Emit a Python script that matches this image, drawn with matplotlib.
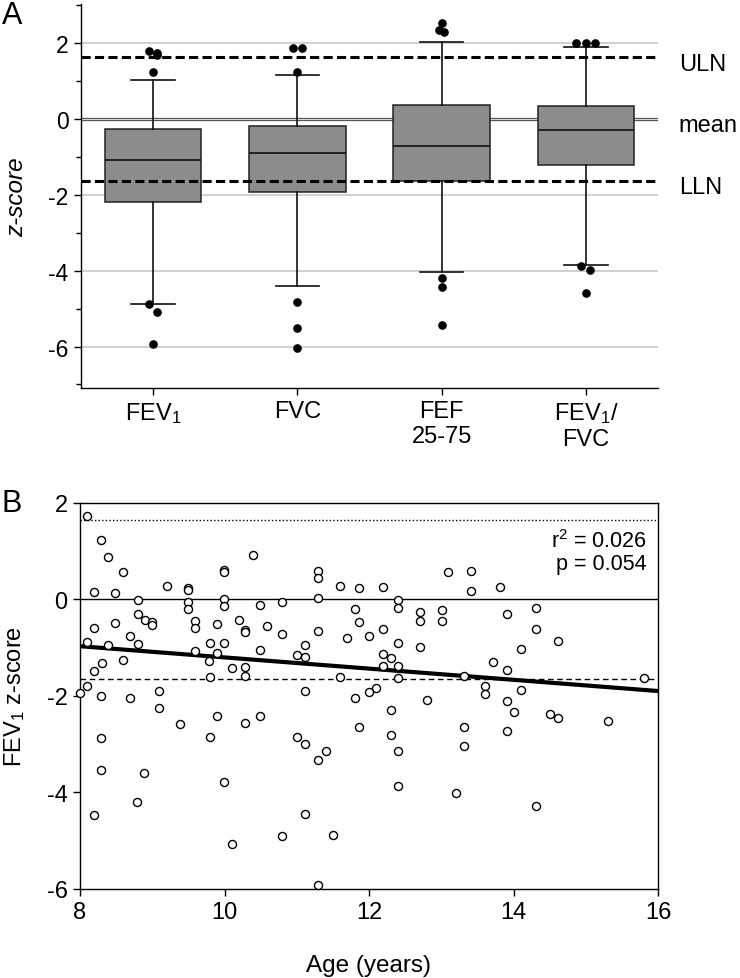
import matplotlib
matplotlib.use('Agg')
import matplotlib.pyplot as plt
import numpy as np

plt.rcParams['font.family'] = ['Liberation Sans', 'DejaVu Sans']
plt.rcParams['mathtext.fontset'] = 'custom'
plt.rcParams['mathtext.rm'] = 'Liberation Sans'
plt.rcParams['mathtext.it'] = 'Liberation Sans:italic'
plt.rcParams['axes.unicode_minus'] = False  # reference uses plain hyphen

# ---- panel A data (box summaries) ----
cats = ['FEV$_1$', 'FVC', 'FEF\n25-75', 'FEV$_1$/\nFVC']
whislo = [-4.89, -4.41, -4.04, -3.86]
q1 = [-2.18, -1.92, -1.64, -1.22]
med = [-1.09, -0.90, -0.71, -0.29]
q3 = [-0.25, -0.18, 0.37, 0.34]
whishi = [1.03, 1.16, 2.03, 1.90]

# outliers: category index and value
out_cat = [0, 0, 0, 0, 0, 0, 0,
           1, 1, 1, 1, 1, 1,
           2, 2, 2, 2, 2, 2,
           3, 3, 3, 3, 3, 3]
out_val = [1.81, 1.75, 1.70, 1.23, -4.89, -5.09, -5.93,
           1.88, 1.88, 1.25, -4.82, -5.50, -6.04,
           2.54, 2.35, 2.31, -4.19, -4.43, -5.44,
           2.00, 2.00, 2.00, -3.88, -3.99, -4.59]
# small sideways shift so overlapping dots stay visible
out_dx = [-0.03, 0.03, 0.03, 0, -0.03, 0.03, 0,
          -0.03, 0.03, 0, 0, 0, 0,
          0, -0.02, 0.015, 0, 0, 0,
          -0.065, 0, 0.065, -0.035, 0.03, 0]

# ---- panel B data (age vs FEV1 z-score) ----
age = [8.09, 8.29, 8.39, 8.60, 8.19, 8.49, 9.20, 9.50, 9.50, 9.99,
       9.99, 10.39, 8.80, 9.50, 9.50, 9.99, 9.99, 10.49, 10.80, 11.30,
       11.30, 11.30, 11.60, 11.86, 11.80, 11.86, 8.19, 8.49, 8.80, 8.90,
       9.00, 9.00, 9.59, 9.59, 9.89, 10.20, 10.29, 10.29, 10.59, 10.80,
       11.30, 11.70, 8.69, 8.10, 8.39, 8.80, 9.80, 9.99, 9.59, 9.89,
       9.79, 10.49, 11.11, 11.00, 11.11, 8.30, 8.19, 8.60, 10.10, 10.29,
       10.29, 9.80, 11.60, 8.09, 8.00, 8.29, 8.69, 9.09, 9.09, 11.11,
       11.80, 9.39, 9.89, 10.29, 10.49, 11.86, 8.29, 9.80, 11.00, 11.11,
       11.40, 11.30, 8.29, 8.89, 9.99, 8.79, 8.19, 11.11, 10.80, 11.50,
       10.10, 11.30,
       12.20, 13.10, 13.41, 13.41, 13.81, 12.40, 12.40, 12.70, 12.70, 13.01,
       13.01, 14.31, 13.91, 12.00, 12.20, 12.40, 12.70, 14.31, 14.61, 14.10,
       12.20, 12.30, 12.20, 12.40, 12.40, 13.31, 13.71, 13.91, 15.81, 13.61,
       13.61, 12.10, 12.00, 12.80, 14.10, 13.91, 12.30, 14.01, 14.51, 14.61,
       15.31, 13.31, 12.30, 13.91, 12.40, 13.31, 12.40, 13.21, 14.31]
fev1_z = [1.74, 1.24, 0.89, 0.56, 0.16, 0.13, 0.27, 0.23, 0.19, 0.62,
          0.56, 0.92, -0.02, -0.06, -0.20, 0.00, -0.14, -0.11, -0.06, 0.58,
          0.45, 0.02, 0.27, 0.23, -0.20, -0.46, -0.60, -0.49, -0.31, -0.42,
          -0.47, -0.54, -0.45, -0.59, -0.52, -0.42, -0.63, -0.67, -0.56, -0.72,
          -0.65, -0.79, -0.75, -0.89, -0.94, -0.93, -0.91, -0.90, -1.07, -1.12,
          -1.27, -1.05, -0.94, -1.15, -1.20, -1.32, -1.48, -1.26, -1.42, -1.41,
          -1.58, -1.61, -1.60, -1.79, -1.94, -2.00, -2.05, -1.90, -2.25, -1.90,
          -2.05, -2.59, -2.41, -2.57, -2.41, -2.64, -2.88, -2.85, -2.86, -3.00,
          -3.14, -3.33, -3.54, -3.59, -3.78, -4.21, -4.48, -4.46, -4.91, -4.88,
          -5.08, -5.93,
          0.25, 0.56, 0.58, 0.17, 0.26, -0.01, -0.18, -0.27, -0.45, -0.22,
          -0.44, -0.18, -0.31, -0.76, -0.61, -0.91, -0.98, -0.62, -0.87, -1.03,
          -1.13, -1.21, -1.39, -1.39, -1.64, -1.58, -1.30, -1.46, -1.63, -1.79,
          -1.96, -1.84, -1.91, -2.08, -1.88, -2.10, -2.29, -2.33, -2.38, -2.46,
          -2.53, -2.65, -2.81, -2.72, -3.15, -3.05, -3.88, -4.02, -4.29]
fit_age = [8, 16]
fit_z = [-0.97, -1.90]

uln = 1.645
lln = -1.645

fig = plt.figure(figsize=(7.4, 9.79), dpi=100)

# ================= panel A =================
axA = fig.add_axes([81 / 740, 1 - 388.5 / 979, 577 / 740, 384 / 979])
pos = np.arange(1, len(cats) + 1)
stats = [dict(med=med[i], q1=q1[i], q3=q3[i], whislo=whislo[i],
              whishi=whishi[i], fliers=[]) for i in range(len(cats))]

for g in [2, -2, -4, -6]:
    axA.axhline(g, color='#c8c8c8', lw=1.2, zorder=0)
axA.axhline(0.035, color='#555555', lw=0.9, zorder=0)
axA.axhline(-0.035, color='#555555', lw=0.9, zorder=0)

axA.bxp(stats, positions=pos, widths=0.67, capwidths=0.3,
        patch_artist=True, showfliers=False,
        boxprops=dict(facecolor='#8c8c8c', edgecolor='#222222', lw=1.1),
        medianprops=dict(color='#111111', lw=1.2),
        whiskerprops=dict(color='#111111', lw=1.2),
        capprops=dict(color='#111111', lw=1.2), zorder=2)

ox = [pos[c] + d for c, d in zip(out_cat, out_dx)]
axA.plot(ox, out_val, 'o', color='black', ms=5.2, zorder=4)

axA.axhline(uln, color='black', lw=2.2, ls=(0, (3.0, 1.4)), zorder=3)
axA.axhline(lln, color='black', lw=2.2, ls=(0, (3.0, 1.4)), zorder=3)

axA.set_xlim(0.5, 4.5)
axA.set_ylim(-7.08, 3.05)
axA.set_yticks([-6, -4, -2, 0, 2])
axA.set_yticks([-7, -5, -3, -1, 1, 3], minor=True)
axA.set_xticks(pos)
axA.set_xticklabels(cats, fontsize=17)
axA.tick_params(axis='y', labelsize=16.5, length=5, width=1, pad=4)
axA.tick_params(axis='y', which='minor', length=3.5, width=1)
axA.tick_params(axis='x', length=5, width=1, pad=4)
for s in ['top', 'right']:
    axA.spines[s].set_visible(False)
for s in ['left', 'bottom']:
    axA.spines[s].set_linewidth(1.0)

tr = axA.get_yaxis_transform()
axA.text(1.036, 1.30, 'ULN', transform=tr, fontsize=17, va='baseline')
axA.text(1.036, -0.32, 'mean', transform=tr, fontsize=17, va='baseline')
axA.text(1.036, -1.95, 'LLN', transform=tr, fontsize=17, va='baseline')

fig.text(17 / 740, 1 - 197 / 979, 'z-score', rotation=90, style='italic',
         fontsize=17.5, ha='center', va='center')
fig.text(2 / 740, 1 - 1 / 979, 'A', fontsize=22, ha='left', va='top')

# ================= panel B =================
axB = fig.add_axes([80 / 740, 1 - 889.7 / 979, 578 / 740, 385.7 / 979])
axB.axhline(0, color='black', lw=1.0, zorder=1)
axB.axhline(uln, color='black', lw=1.0, ls=(0, (1, 1.6)), zorder=1)
axB.axhline(lln, color='black', lw=1.0, ls=(0, (4, 2.6)), zorder=1)
axB.plot(fit_age, fit_z, color='black', lw=3, zorder=2, solid_capstyle='butt')
axB.plot(age, fev1_z, 'o', mfc='white', mec='black', mew=1.0, ms=5.8,
         zorder=3, clip_on=False)

axB.set_xlim(8, 16)
axB.set_ylim(-6, 2)
axB.set_xticks([8, 10, 12, 14, 16])
axB.set_yticks([-6, -4, -2, 0, 2])
axB.tick_params(labelsize=17, length=5, width=1, pad=4)
for s in axB.spines.values():
    s.set_linewidth(1.0)

axB.text(0.98, 0.886, 'r$^2$ = 0.026', transform=axB.transAxes,
         fontsize=15.5, ha='right', va='baseline')
axB.text(0.98, 0.829, 'p = 0.054', transform=axB.transAxes,
         fontsize=15.5, ha='right', va='baseline')

fig.text(14.5 / 740, 1 - 697 / 979, 'FEV$_1$ z-score', rotation=90,
         fontsize=17, ha='center', va='center')
fig.text(368.5 / 740, 1 - 972 / 979, 'Age (years)', fontsize=17.5,
         ha='center', va='baseline')
fig.text(2 / 740, 1 - 489 / 979, 'B', fontsize=22, ha='left', va='top')

fig.savefig('out.png', dpi=100)
